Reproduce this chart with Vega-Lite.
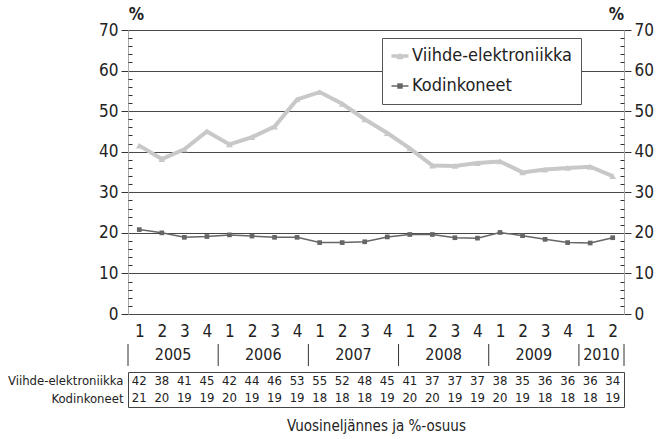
{
  "$schema": "https://vega.github.io/schema/vega-lite/v6.json",
  "padding": {"left": 6, "top": 5, "right": 5, "bottom": 5},
  "datasets": {
    "d": [
      {"q": "2005-1", "year": "2005", "Q": 1, "series": "Viihde-elektroniikka", "value": 41.5, "shown": 42},
      {"q": "2005-2", "year": "2005", "Q": 2, "series": "Viihde-elektroniikka", "value": 38.2, "shown": 38},
      {"q": "2005-3", "year": "2005", "Q": 3, "series": "Viihde-elektroniikka", "value": 40.6, "shown": 41},
      {"q": "2005-4", "year": "2005", "Q": 4, "series": "Viihde-elektroniikka", "value": 45.0, "shown": 45},
      {"q": "2006-1", "year": "2006", "Q": 1, "series": "Viihde-elektroniikka", "value": 41.8, "shown": 42},
      {"q": "2006-2", "year": "2006", "Q": 2, "series": "Viihde-elektroniikka", "value": 43.6, "shown": 44},
      {"q": "2006-3", "year": "2006", "Q": 3, "series": "Viihde-elektroniikka", "value": 46.2, "shown": 46},
      {"q": "2006-4", "year": "2006", "Q": 4, "series": "Viihde-elektroniikka", "value": 52.9, "shown": 53},
      {"q": "2007-1", "year": "2007", "Q": 1, "series": "Viihde-elektroniikka", "value": 54.7, "shown": 55},
      {"q": "2007-2", "year": "2007", "Q": 2, "series": "Viihde-elektroniikka", "value": 51.8, "shown": 52},
      {"q": "2007-3", "year": "2007", "Q": 3, "series": "Viihde-elektroniikka", "value": 48.0, "shown": 48},
      {"q": "2007-4", "year": "2007", "Q": 4, "series": "Viihde-elektroniikka", "value": 44.6, "shown": 45},
      {"q": "2008-1", "year": "2008", "Q": 1, "series": "Viihde-elektroniikka", "value": 40.8, "shown": 41},
      {"q": "2008-2", "year": "2008", "Q": 2, "series": "Viihde-elektroniikka", "value": 36.6, "shown": 37},
      {"q": "2008-3", "year": "2008", "Q": 3, "series": "Viihde-elektroniikka", "value": 36.5, "shown": 37},
      {"q": "2008-4", "year": "2008", "Q": 4, "series": "Viihde-elektroniikka", "value": 37.2, "shown": 37},
      {"q": "2009-1", "year": "2009", "Q": 1, "series": "Viihde-elektroniikka", "value": 37.6, "shown": 38},
      {"q": "2009-2", "year": "2009", "Q": 2, "series": "Viihde-elektroniikka", "value": 34.9, "shown": 35},
      {"q": "2009-3", "year": "2009", "Q": 3, "series": "Viihde-elektroniikka", "value": 35.6, "shown": 36},
      {"q": "2009-4", "year": "2009", "Q": 4, "series": "Viihde-elektroniikka", "value": 36.0, "shown": 36},
      {"q": "2010-1", "year": "2010", "Q": 1, "series": "Viihde-elektroniikka", "value": 36.3, "shown": 36},
      {"q": "2010-2", "year": "2010", "Q": 2, "series": "Viihde-elektroniikka", "value": 34.0, "shown": 34},
      {"q": "2005-1", "year": "2005", "Q": 1, "series": "Kodinkoneet", "value": 20.8, "shown": 21},
      {"q": "2005-2", "year": "2005", "Q": 2, "series": "Kodinkoneet", "value": 20.0, "shown": 20},
      {"q": "2005-3", "year": "2005", "Q": 3, "series": "Kodinkoneet", "value": 18.9, "shown": 19},
      {"q": "2005-4", "year": "2005", "Q": 4, "series": "Kodinkoneet", "value": 19.1, "shown": 19},
      {"q": "2006-1", "year": "2006", "Q": 1, "series": "Kodinkoneet", "value": 19.5, "shown": 20},
      {"q": "2006-2", "year": "2006", "Q": 2, "series": "Kodinkoneet", "value": 19.2, "shown": 19},
      {"q": "2006-3", "year": "2006", "Q": 3, "series": "Kodinkoneet", "value": 18.9, "shown": 19},
      {"q": "2006-4", "year": "2006", "Q": 4, "series": "Kodinkoneet", "value": 18.9, "shown": 19},
      {"q": "2007-1", "year": "2007", "Q": 1, "series": "Kodinkoneet", "value": 17.6, "shown": 18},
      {"q": "2007-2", "year": "2007", "Q": 2, "series": "Kodinkoneet", "value": 17.6, "shown": 18},
      {"q": "2007-3", "year": "2007", "Q": 3, "series": "Kodinkoneet", "value": 17.8, "shown": 18},
      {"q": "2007-4", "year": "2007", "Q": 4, "series": "Kodinkoneet", "value": 19.0, "shown": 19},
      {"q": "2008-1", "year": "2008", "Q": 1, "series": "Kodinkoneet", "value": 19.6, "shown": 20},
      {"q": "2008-2", "year": "2008", "Q": 2, "series": "Kodinkoneet", "value": 19.6, "shown": 20},
      {"q": "2008-3", "year": "2008", "Q": 3, "series": "Kodinkoneet", "value": 18.8, "shown": 19},
      {"q": "2008-4", "year": "2008", "Q": 4, "series": "Kodinkoneet", "value": 18.7, "shown": 19},
      {"q": "2009-1", "year": "2009", "Q": 1, "series": "Kodinkoneet", "value": 20.1, "shown": 20},
      {"q": "2009-2", "year": "2009", "Q": 2, "series": "Kodinkoneet", "value": 19.3, "shown": 19},
      {"q": "2009-3", "year": "2009", "Q": 3, "series": "Kodinkoneet", "value": 18.4, "shown": 18},
      {"q": "2009-4", "year": "2009", "Q": 4, "series": "Kodinkoneet", "value": 17.6, "shown": 18},
      {"q": "2010-1", "year": "2010", "Q": 1, "series": "Kodinkoneet", "value": 17.5, "shown": 18},
      {"q": "2010-2", "year": "2010", "Q": 2, "series": "Kodinkoneet", "value": 18.8, "shown": 19}
    ]
  },
  "config": {
    "font": "Liberation Sans Narrow, DejaVu Sans Condensed, Roboto, sans-serif",
    "view": {"stroke": null},
    "axis": {"labelColor": "#222", "titleColor": "#222"},
    "concat": {"spacing": 4},
    "text": {"color": "#222"}
  },
  "vconcat": [
    {
      "width": 496,
      "height": 284,
      "data": {"name": "d"},
      "encoding": {
        "x": {
          "field": "q", "type": "ordinal",
          "scale": {"type": "point", "padding": 0.5, "domain": ["2005-1","2005-2","2005-3","2005-4","2006-1","2006-2","2006-3","2006-4","2007-1","2007-2","2007-3","2007-4","2008-1","2008-2","2008-3","2008-4","2009-1","2009-2","2009-3","2009-4","2010-1","2010-2"]},
          "axis": {"title": null, "domain": false, "ticks": false, "grid": false, "labelAngle": 0, "labelFontSize": 17, "labelPadding": 9, "labelExpr": "split(datum.value, '-')[1]"}
        }
      },
      "layer": [
        {
          "transform": [{"filter": "datum.series == 'Viihde-elektroniikka'"}],
          "mark": {"type": "line", "color": "#c8c8c8", "strokeWidth": 4},
          "encoding": {
            "y": {"field": "value", "type": "quantitative", "scale": {"domain": [0, 70], "nice": false},
              "axis": {"orient": "left", "values": [0,10,20,30,40,50,60,70], "grid": true, "gridColor": "#333", "gridWidth": 0.9, "domain": true, "domainColor": "#aaa", "tickColor": "#333", "tickSize": 7, "labelFontSize": 17, "labelPadding": 3, "title": "%", "titleAngle": 0, "titleX": 8, "titleY": -7, "titleAlign": "center", "titleBaseline": "bottom", "titleFontSize": 17, "titleFontWeight": "bold"}}
          }
        },
        {
          "transform": [{"filter": "datum.series == 'Viihde-elektroniikka'"}],
          "mark": {"type": "point", "shape": "triangle-up", "filled": true, "color": "#c8c8c8", "size": 45, "opacity": 1},
          "encoding": {
            "y": {"field": "value", "type": "quantitative",
              "axis": {"orient": "left", "values": [2,4,6,8,12,14,16,18,22,24,26,28,32,34,36,38,42,44,46,48,52,54,56,58,62,64,66,68], "grid": false, "domain": false, "labels": false, "title": null, "tickColor": "#333", "tickSize": -4}}
          }
        },
        {
          "transform": [{"filter": "datum.series == 'Kodinkoneet'"}],
          "mark": {"type": "line", "color": "#666", "strokeWidth": 1.5},
          "encoding": {
            "y": {"field": "value", "type": "quantitative",
              "axis": {"orient": "right", "values": [0,10,20,30,40,50,60,70], "grid": false, "domain": true, "domainColor": "#aaa", "tickColor": "#333", "tickSize": 7, "labelFontSize": 17, "labelPadding": 3, "title": "%", "titleAngle": 0, "titleX": -8, "titleY": -7, "titleAlign": "center", "titleBaseline": "bottom", "titleFontSize": 17, "titleFontWeight": "bold"}}
          }
        },
        {
          "transform": [{"filter": "datum.series == 'Kodinkoneet'"}],
          "mark": {"type": "point", "shape": "square", "filled": true, "color": "#666", "size": 22, "opacity": 1},
          "encoding": {
            "y": {"field": "value", "type": "quantitative",
              "axis": {"orient": "right", "values": [2,4,6,8,12,14,16,18,22,24,26,28,32,34,36,38,42,44,46,48,52,54,56,58,62,64,66,68], "grid": false, "domain": false, "labels": false, "title": null, "tickColor": "#333", "tickSize": -4}}
          }
        },
        {
          "transform": [{"filter": "false"}],
          "mark": {"type": "point", "filled": true, "opacity": 1},
          "encoding": {
            "color": {"field": "series", "type": "nominal",
              "scale": {"domain": ["Viihde-elektroniikka", "Kodinkoneet"], "range": ["#c8c8c8", "#666666"]},
              "legend": {"title": null, "orient": "none", "legendX": 254, "legendY": 8, "symbolSize": 290, "labelFontSize": 18, "labelColor": "#222", "labelOffset": 3, "rowPadding": 12, "padding": 9, "strokeColor": "#555", "fillColor": "#fff", "symbolStrokeWidth": 0, "symbolOpacity": 1}},
            "shape": {"field": "series", "type": "nominal",
              "scale": {"domain": ["Viihde-elektroniikka", "Kodinkoneet"], "range": ["M-1,-0.2H1V0.2H-1Z M-0.42,0.38L0,-0.42L0.42,0.38Z", "M-1,-0.08H1V0.08H-1Z M-0.32,-0.32H0.32V0.32H-0.32Z"]},
              "legend": {"title": null, "orient": "none", "legendX": 254, "legendY": 8, "symbolSize": 290, "labelFontSize": 18, "labelColor": "#222", "labelOffset": 3, "rowPadding": 12, "padding": 9, "strokeColor": "#555", "fillColor": "#fff", "symbolStrokeWidth": 0, "symbolOpacity": 1}}
          }
        }
      ],
      "resolve": {"axis": {"y": "independent"}}
    },
    {
      "width": 496,
      "height": 22,
      "data": {"name": "d"},
      "transform": [{"filter": "datum.series == 'Viihde-elektroniikka'"}],
      "encoding": {
        "x": {
          "field": "q", "type": "ordinal",
          "scale": {"type": "band", "paddingInner": 0, "paddingOuter": 0, "domain": ["2005-1","2005-2","2005-3","2005-4","2006-1","2006-2","2006-3","2006-4","2007-1","2007-2","2007-3","2007-4","2008-1","2008-2","2008-3","2008-4","2009-1","2009-2","2009-3","2009-4","2010-1","2010-2"]},
          "axis": null
        }
      },
      "layer": [
        {
          "transform": [{"filter": "datum.Q == 1"}],
          "mark": {"type": "rule", "color": "#333", "strokeWidth": 1},
          "encoding": {"x": {"field": "q", "type": "ordinal", "bandPosition": 0}}
        },
        {
          "transform": [{"filter": "datum.q == '2010-2'"}],
          "mark": {"type": "rule", "color": "#333", "strokeWidth": 1},
          "encoding": {"x": {"field": "q", "type": "ordinal", "bandPosition": 1}}
        },
        {
          "transform": [{"filter": "datum.Q == 3 || datum.q == '2010-2'"}],
          "mark": {"type": "text", "fontSize": 16, "color": "#222", "align": "center", "baseline": "middle"},
          "encoding": {"x": {"field": "q", "type": "ordinal", "bandPosition": 0}, "text": {"field": "year"}}
        }
      ]
    },
    {
      "width": 496,
      "height": 35,
      "view": {"stroke": "#444", "strokeWidth": 1},
      "data": {"name": "d"},
      "mark": {"type": "text", "fontSize": 13, "color": "#222", "align": "center", "baseline": "middle"},
      "encoding": {
        "x": {
          "field": "q", "type": "ordinal",
          "scale": {"type": "point", "padding": 0.5, "domain": ["2005-1","2005-2","2005-3","2005-4","2006-1","2006-2","2006-3","2006-4","2007-1","2007-2","2007-3","2007-4","2008-1","2008-2","2008-3","2008-4","2009-1","2009-2","2009-3","2009-4","2010-1","2010-2"]},
          "axis": {"title": "Vuosineljännes ja %-osuus", "labels": false, "ticks": false, "domain": false, "grid": false, "titleFontSize": 15, "titleFontWeight": "normal", "titlePadding": 11}
        },
        "y": {
          "field": "series", "type": "nominal",
          "scale": {"domain": ["Viihde-elektroniikka", "Kodinkoneet"], "paddingInner": 0, "paddingOuter": 0},
          "axis": {"title": null, "ticks": false, "domain": false, "grid": false, "labelFontSize": 13, "labelPadding": 5}
        },
        "text": {"field": "shown", "type": "quantitative"}
      }
    }
  ]
}
